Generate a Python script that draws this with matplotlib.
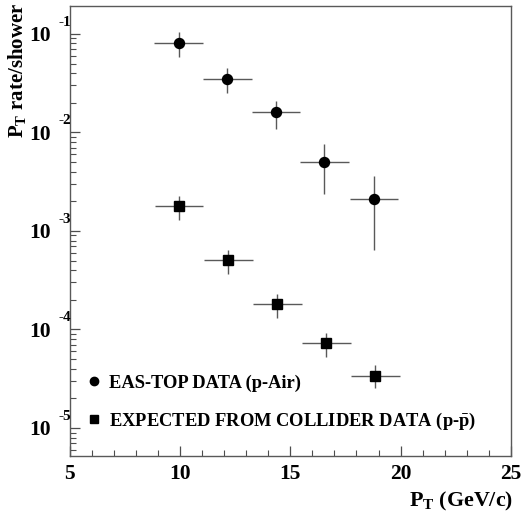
import matplotlib
matplotlib.use("Agg")
import matplotlib.pyplot as plt
from matplotlib.lines import Line2D

plt.rcParams['font.family'] = 'Liberation Serif'
plt.rcParams['font.weight'] = 'bold'
plt.rcParams['mathtext.fontset'] = 'custom'
plt.rcParams['mathtext.rm'] = 'Liberation Serif:bold'
plt.rcParams['mathtext.bf'] = 'Liberation Serif:bold'
plt.rcParams['mathtext.it'] = 'Liberation Serif:bold'

# EAS-TOP data (p-Air)
eas_pt = [9.95, 12.15, 14.35, 16.55, 18.8]
eas_rate = [0.0817, 0.0352, 0.0160, 0.00506, 0.00211]
eas_up = [0.1048, 0.0455, 0.0210, 0.00764, 0.00361]
eas_lo = [0.0589, 0.0254, 0.01094, 0.00239, 0.000641]
eas_xerr = [1.1, 1.1, 1.1, 1.1, 1.1]

# expected from collider data (p-pbar)
col_pt = [9.97, 12.19, 14.41, 16.63, 18.85]
col_rate = [0.00179, 0.000505, 0.000180, 7.30e-5, 3.40e-5]
col_up = [0.00227, 0.000637, 0.000229, 9.27e-5, 4.33e-5]
col_lo = [0.00129, 0.000366, 0.000131, 5.30e-5, 2.53e-5]
col_xerr = [1.1, 1.1, 1.1, 1.1, 1.1]

decades = [-1, -2, -3, -4, -5]
xticks = [5, 10, 15, 20, 25]

W, H = 524, 514
fig = plt.figure(figsize=(W / 100, H / 100), dpi=100)
ax = fig.add_axes([69.5 / W, 1 - 456 / H, (511 - 69.5) / W, (456 - 6) / H])

ecol = '0.35'
yerr_eas = [[r - l for r, l in zip(eas_rate, eas_lo)], [u - r for r, u in zip(eas_rate, eas_up)]]
yerr_col = [[r - l for r, l in zip(col_rate, col_lo)], [u - r for r, u in zip(col_rate, col_up)]]
ax.errorbar(eas_pt, eas_rate, xerr=eas_xerr, yerr=yerr_eas, fmt='o', color='black',
            ms=7.2, ecolor=ecol, elinewidth=1.0, capsize=0)
ax.errorbar(col_pt, col_rate, xerr=col_xerr, yerr=yerr_col, fmt='s', color='black',
            ms=7, ecolor=ecol, elinewidth=1.0, capsize=0)

ax.set_yscale('log')
ax.set_xlim(5, 25)
ax.set_ylim(5.2e-6, 0.192)

ax.set_xticks(xticks)
ax.set_xticklabels([str(t) for t in xticks], fontsize=15.5, fontweight='bold')
ax.set_xticks(range(5, 26), minor=True)
ax.yaxis.set_major_locator(matplotlib.ticker.LogLocator(base=10, numticks=20))
ax.yaxis.set_minor_locator(matplotlib.ticker.LogLocator(base=10, subs=range(2, 10), numticks=20))
ax.yaxis.set_major_formatter(matplotlib.ticker.NullFormatter())
ax.yaxis.set_minor_formatter(matplotlib.ticker.NullFormatter())
ax.tick_params(axis='both', which='both', direction='in', top=False, right=False, color='0.3')
ax.tick_params(axis='both', which='major', length=7.5, width=0.9)
ax.tick_params(axis='both', which='minor', length=4, width=0.8)
ax.tick_params(axis='x', which='major', pad=6)
for s in ax.spines.values():
    s.set_color('0.35')
    s.set_linewidth(1.0)

# PAW-style y tick labels: "10" with the exponent above right
for d in decades:
    ax.annotate('10', xy=(0, 10.0 ** d), xycoords=ax.get_yaxis_transform(),
                xytext=(-21, -1.5), textcoords='offset points', ha='center', va='center',
                fontsize=15.5, fontweight='bold')
    ax.annotate(str(d), xy=(0, 10.0 ** d), xycoords=ax.get_yaxis_transform(),
                xytext=(-3.5, 8.5), textcoords='offset points', ha='center', va='center',
                fontsize=11, fontweight='bold')

fig.text(513 / W, 1 - 501 / H, r'P$_\mathrm{T}$ (GeV/c)', ha='right', va='center',
         fontsize=15.8, fontweight='bold')
fig.text(17 / W, 1 - 3 / H, r'P$_\mathrm{T}$ rate/shower', ha='center', va='top',
         rotation=90, fontsize=15, fontweight='bold')

handles = [Line2D([], [], marker='o', color='black', ls='', ms=6),
           Line2D([], [], marker='s', color='black', ls='', ms=6.2)]
labels = ['EAS-TOP DATA (p-Air)', r'EXPECTED FROM COLLIDER DATA (p-$\bar{\mathrm{p}}$)']
ax.legend(handles, labels, loc='lower left', bbox_to_anchor=(0.0, 0.021), frameon=False,
          prop={'family': 'Liberation Serif', 'weight': 'bold', 'size': 13.3},
          handlelength=1.0, handletextpad=0.35, labelspacing=1.02, borderaxespad=0.4)

fig.savefig('out.png', dpi=100)
